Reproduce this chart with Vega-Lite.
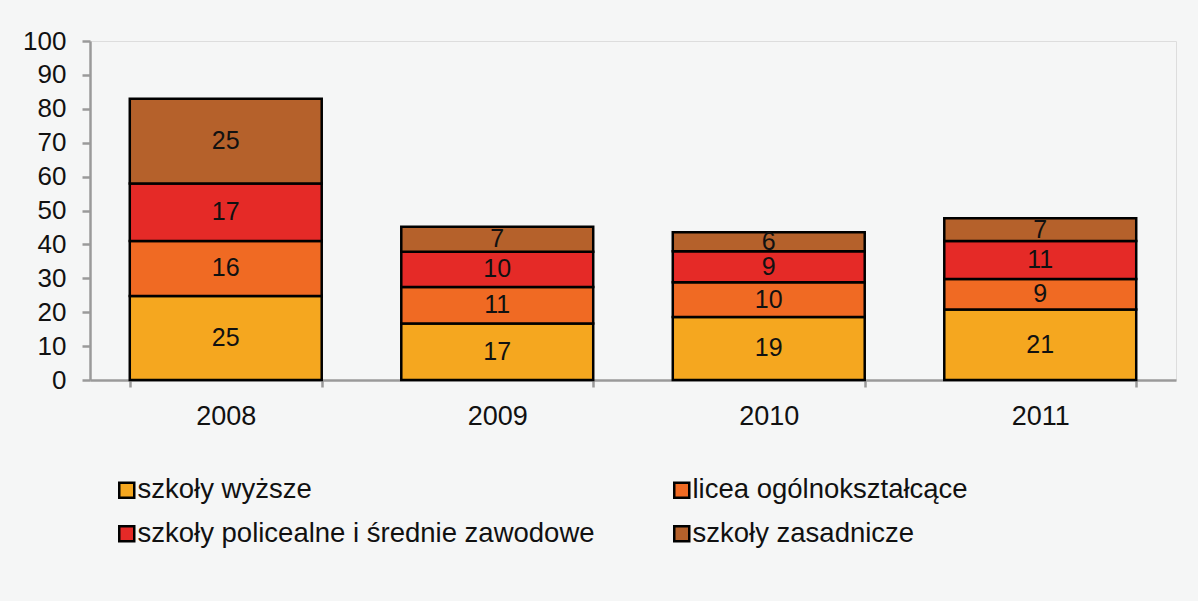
{
  "$schema": "https://vega.github.io/schema/vega-lite/v6.json",
  "width": 1086,
  "height": 339,
  "autosize": {"type": "none"},
  "padding": {"left": 90, "top": 41, "right": 22, "bottom": 221},
  "background": "#f5f6f6",
  "data": {
    "values": [
      {"rok": "2008", "kat": "szkoły wyższe", "k": 1, "v": 24.8},
      {"rok": "2008", "kat": "licea ogólnokształcące", "k": 2, "v": 16.2},
      {"rok": "2008", "kat": "szkoły policealne i średnie zawodowe", "k": 3, "v": 17.0},
      {"rok": "2008", "kat": "szkoły zasadnicze", "k": 4, "v": 25.0},
      {"rok": "2009", "kat": "szkoły wyższe", "k": 1, "v": 16.7},
      {"rok": "2009", "kat": "licea ogólnokształcące", "k": 2, "v": 10.7},
      {"rok": "2009", "kat": "szkoły policealne i średnie zawodowe", "k": 3, "v": 10.4},
      {"rok": "2009", "kat": "szkoły zasadnicze", "k": 4, "v": 7.4},
      {"rok": "2010", "kat": "szkoły wyższe", "k": 1, "v": 18.6},
      {"rok": "2010", "kat": "licea ogólnokształcące", "k": 2, "v": 10.2},
      {"rok": "2010", "kat": "szkoły policealne i średnie zawodowe", "k": 3, "v": 9.2},
      {"rok": "2010", "kat": "szkoły zasadnicze", "k": 4, "v": 5.6},
      {"rok": "2011", "kat": "szkoły wyższe", "k": 1, "v": 20.8},
      {"rok": "2011", "kat": "licea ogólnokształcące", "k": 2, "v": 9.0},
      {"rok": "2011", "kat": "szkoły policealne i średnie zawodowe", "k": 3, "v": 11.2},
      {"rok": "2011", "kat": "szkoły zasadnicze", "k": 4, "v": 6.7}
    ]
  },
  "encoding": {
    "x": {
      "field": "rok",
      "type": "nominal",
      "scale": {"paddingInner": 0.293, "paddingOuter": 0.1465},
      "axis": {
        "title": null,
        "labelAngle": 0,
        "labelFont": "Liberation Sans",
        "labelFontSize": 27,
        "labelColor": "#111111",
        "labelPadding": 16,
        "domainColor": "#9a9a9a",
        "domainWidth": 2.5,
        "tickColor": "#9a9a9a",
        "tickWidth": 2.5,
        "tickSize": 7,
        "tickBand": "extent"
      }
    },
    "y": {
      "field": "v",
      "type": "quantitative",
      "stack": "zero",
      "scale": {"domain": [0, 100], "nice": false},
      "axis": {
        "title": null,
        "values": [0, 10, 20, 30, 40, 50, 60, 70, 80, 90, 100],
        "grid": false,
        "labelFont": "Liberation Sans",
        "labelFontSize": 26,
        "labelColor": "#111111",
        "labelPadding": 16,
        "domainColor": "#9a9a9a",
        "domainWidth": 2.5,
        "tickColor": "#9a9a9a",
        "tickWidth": 2.5,
        "tickSize": 8
      }
    },
    "order": {"field": "k", "type": "quantitative"}
  },
  "layer": [
    {
      "mark": {"type": "bar", "stroke": "#000000", "strokeWidth": 2.5},
      "encoding": {
        "color": {
          "field": "kat",
          "type": "nominal",
          "sort": ["szkoły wyższe", "licea ogólnokształcące", "szkoły policealne i średnie zawodowe", "szkoły zasadnicze"],
          "scale": {
            "domain": ["szkoły wyższe", "licea ogólnokształcące", "szkoły policealne i średnie zawodowe", "szkoły zasadnicze"],
            "range": ["#F5A71F", "#F06A23", "#E52A27", "#B5612B"]
          },
          "legend": {
            "title": null,
            "orient": "none",
            "legendX": 23,
            "legendY": 435,
            "direction": "horizontal",
            "columns": 2,
            "columnPadding": 73,
            "rowPadding": 15,
            "padding": 0,
            "symbolType": "square",
            "symbolSize": 225,
            "symbolStrokeColor": "#000000",
            "symbolStrokeWidth": 2.5,
            "symbolOpacity": 1,
            "labelOffset": -3,
            "labelFont": "Liberation Sans",
            "labelFontSize": 27.5,
            "labelColor": "#111111",
            "labelLimit": 0
          }
        }
      }
    },
    {
      "mark": {"type": "text", "font": "Liberation Sans Narrow, Arial Narrow, Liberation Sans", "fontSize": 25, "color": "#111111", "baseline": "middle", "align": "center"},
      "encoding": {
        "y": {"field": "v", "type": "quantitative", "stack": "zero", "bandPosition": 0.5},
        "detail": {"field": "kat", "type": "nominal"},
        "text": {"field": "v", "type": "quantitative", "format": ".0f"}
      }
    }
  ]
}
